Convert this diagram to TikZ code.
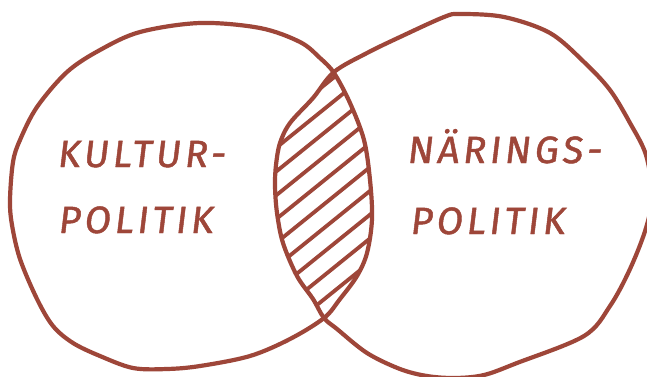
\documentclass[tikz,border=0pt]{standalone}
\usepackage{fontspec}
\newfontfamily\hand[LetterSpace=10,FakeSlant=0.12,FakeBold=1.2]{Fira Sans}
\definecolor{ink}{RGB}{158,70,57}
\newcommand\leftcircle{plot[smooth cycle, tension=0.55] coordinates {(10,200) (13,162) (20,140) (37,107) (67,72) (100,50) (140,32) (200,23) (260,28) (300,42) (320,58) (334,73) (350,103) (364,140) (370,180) (372,219) (367,253) (357,276) (340,299) (324,318) (290,339) (250,356) (200,366) (167,369) (133,368) (100,356) (73,343) (53,326) (37,299) (20,259) (12,225)}}
\newcommand\rightcircle{plot[smooth cycle, tension=0.55] coordinates {(334,72) (367,53) (400,37) (444,17) (460,14) (504,17) (550,33) (584,62) (610,90) (630,123) (646,155) (652,195) (646,228) (630,269) (610,306) (584,336) (517,363) (484,375) (455,378) (427,376) (400,369) (367,353) (337,329) (324,318) (313,299) (297,276) (283,243) (277,213) (275,186) (276,165) (280,143) (290,123) (313,98)}}
\tikzset{
  stroke/.style={draw=ink, line width=4.2pt, line cap=round, line join=round},
  label/.style={text=ink, font=\hand\fontsize{38}{40}\selectfont, anchor=base, inner sep=0pt}
}
\begin{document}
\begin{tikzpicture}[x=1pt,y=-1pt]
\useasboundingbox (0,0) rectangle (647,376);
\fill[white] (0,0) rectangle (647,376);
% hatching in the overlap
\begin{scope}
  \clip \leftcircle;
  \clip \rightcircle;
  \foreach \c in {270,288.5,307,325.5,344,362.5,381,399.5,418,436.5}
    \draw[stroke, line width=3.8pt] ({\c*0.628-320*0.778},{\c*0.778+320*0.628}) -- ({\c*0.628+320*0.778},{\c*0.778-320*0.628});
\end{scope}
\draw[stroke] \leftcircle;
\draw[stroke] \rightcircle;
\node[label] (k1) at (141,167) {KULTUR-};
\node[label] (k2) at (135,233) {POLITIK};
\node[label] (n1) at (504,163) {NÄRINGS-};
\node[label] (n2) at (487,234) {POLITIK};
\end{tikzpicture}
\end{document}
